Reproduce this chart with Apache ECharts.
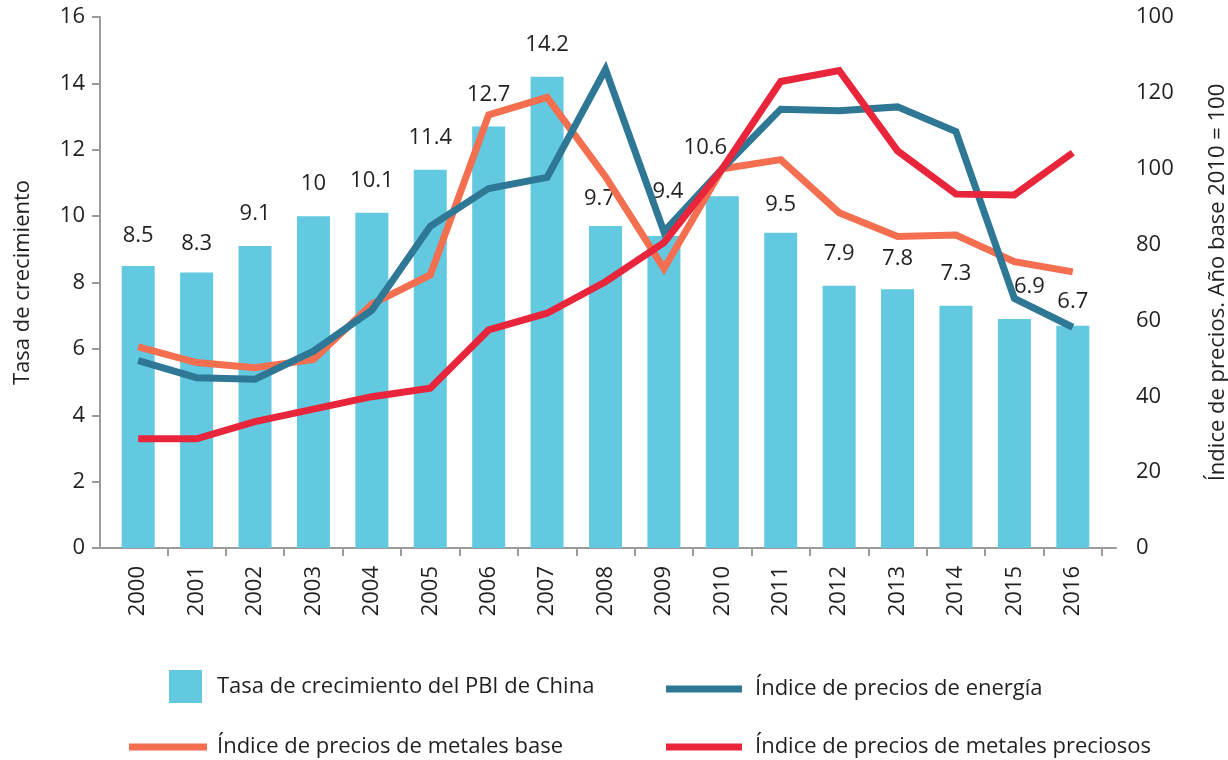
<!DOCTYPE html>
<html>
<head>
<meta charset="utf-8">
<script src="https://cdn.jsdelivr.net/npm/echarts@6/dist/echarts.min.js"></script>
<style>
  html, body { margin: 0; padding: 0; background: #fff; }
  #chart { width: 1228px; height: 760px; }
</style>
</head>
<body>
<div id="chart"></div>
<script>
const years = ["2000", "2001", "2002", "2003", "2004", "2005", "2006", "2007", "2008",
  "2009", "2010", "2011", "2012", "2013", "2014", "2015", "2016"];
const gdpGrowth = [8.5, 8.3, 9.1, 10, 10.1, 11.4, 12.7, 14.2, 9.7, 9.4, 10.6, 9.5, 7.9, 7.8, 7.3, 6.9, 6.7];
const energyIndex = [49.4, 44.9, 44.5, 51.9, 62.7, 84.8, 94.8, 97.7, 126.2, 83.4, 100, 115.7, 115.3, 116.3, 109.8, 65.8, 58.2];
const baseMetalsIndex = [53.0, 48.9, 47.5, 49.7, 64.3, 72.0, 114.2, 118.8, 97.9, 73.7, 100, 102.4, 88.4, 82.1, 82.5, 75.5, 72.8];
const preciousMetalsIndex = [28.8, 28.8, 33.3, 36.6, 39.9, 42.1, 57.5, 61.9, 70.2, 80.5, 100, 123.0, 125.9, 104.7, 93.3, 93.1, 104.2];
const rightTickLabels = ["0", "20", "40", "60", "80", "100", "120", "100"];

const names = {
  gdp: "Tasa de crecimiento del PBI de China",
  energy: "Índice de precios de energía",
  base: "Índice de precios de metales base",
  precious: "Índice de precios de metales preciosos",
};

const FONT = "'Open Sans', sans-serif";
const TEXT = "#231f20";
const AXIS = "#9b9b9b";

// a few bar labels sit slightly off in the original
const labelNudge = { "2000": [0, 2], "2001": [0, 3], "2008": [-6, 5], "2009": [4, -12], "2010": [-17, -16],
  "2011": [0, 4], "2013": [0, 2], "2015": [15, 0], "2016": [0, 8] };

const chart = echarts.init(document.getElementById("chart"));

const legendBase = {
  orient: "horizontal",
  selectedMode: false,
  padding: 0,
  icon: "rect",
  textStyle: { color: TEXT, fontFamily: FONT, fontSize: 22 },
};

chart.setOption({
  animation: false,
  textStyle: { fontFamily: FONT },
  grid: [
    { left: 100, right: 112, top: 17, bottom: 212, outerBoundsMode: "none" },
    { left: 109, right: 126, top: 17, bottom: 212, outerBoundsMode: "none" },
  ],
  legend: [
    { ...legendBase, data: [names.gdp], left: 169, top: 670, itemWidth: 33, itemHeight: 33,
      textStyle: { ...legendBase.textStyle, padding: [7, 0, 0, 10] } },
    { ...legendBase, data: [names.energy], left: 666, top: 678, itemWidth: 76, itemHeight: 7,
      textStyle: { ...legendBase.textStyle, padding: [2, 0, 0, 8] } },
    { ...legendBase, data: [names.base], left: 129, top: 736, itemWidth: 78, itemHeight: 7,
      textStyle: { ...legendBase.textStyle, padding: [2, 0, 0, 5] } },
    { ...legendBase, data: [names.precious], left: 666, top: 736, itemWidth: 76, itemHeight: 7,
      textStyle: { ...legendBase.textStyle, padding: [2, 0, 0, 8] } },
  ],
  xAxis: [
    {
      gridIndex: 0,
      type: "value",
      min: 0,
      max: 1,
      axisLine: { show: true, lineStyle: { color: AXIS, width: 2 } },
      axisTick: { show: false },
      axisLabel: { show: false },
      splitLine: { show: false },
    },
    {
      gridIndex: 1,
      type: "category",
      data: years,
      boundaryGap: true,
      axisLine: { show: false },
      axisTick: { show: true, length: 8, interval: (i) => i !== 0, lineStyle: { color: AXIS, width: 2 } },
      axisLabel: { rotate: 90, margin: 18, color: TEXT, fontSize: 22, fontFamily: FONT, interval: 0 },
    },
  ],
  yAxis: [
    {
      gridIndex: 0,
      type: "value",
      min: 0,
      max: 16,
      interval: 2,
      name: "Tasa de crecimiento",
      nameLocation: "middle",
      nameRotate: 90,
      nameGap: 66,
      nameTextStyle: { color: TEXT, fontSize: 22, fontFamily: FONT },
      axisLine: { show: true, lineStyle: { color: AXIS, width: 2 } },
      axisTick: { show: true, length: 8, lineStyle: { color: AXIS, width: 2 } },
      axisLabel: { margin: 15, color: TEXT, fontSize: 22, fontFamily: FONT },
      splitLine: { show: false },
    },
    {
      gridIndex: 1,
      type: "value",
      min: 0,
      max: 16,
      interval: 2,
      show: false,
      splitLine: { show: false },
    },
    {
      gridIndex: 1,
      type: "value",
      position: "right",
      min: 0,
      max: 140,
      interval: 20,
      name: "Índice de precios. Año base 2010 = 100",
      nameLocation: "middle",
      nameRotate: 90,
      nameGap: 105,
      nameTextStyle: { color: TEXT, fontSize: 22, fontFamily: FONT },
      axisLine: { show: false },
      axisTick: { show: false },
      axisLabel: {
        margin: 34,
        color: TEXT,
        fontSize: 22,
        fontFamily: FONT,
        formatter: (v) => rightTickLabels[Math.round(v / 20)],
      },
      splitLine: { show: false },
    },
  ],
  series: [
    {
      name: names.gdp,
      type: "bar",
      xAxisIndex: 1,
      yAxisIndex: 1,
      barWidth: 33,
      itemStyle: { color: "#62c9e0" },
      label: { show: true, position: "top", distance: 21, color: TEXT, fontSize: 22, fontFamily: FONT },
      data: gdpGrowth.map((v, i) => ({
        value: v,
        label: { offset: labelNudge[years[i]] || [0, 0] },
      })),
    },
    {
      name: names.base,
      type: "line",
      xAxisIndex: 1,
      yAxisIndex: 2,
      showSymbol: false,
      symbol: "none",
      lineStyle: { color: "#f36f50", width: 7, join: "miter" },
      itemStyle: { color: "#f36f50" },
      data: baseMetalsIndex,
    },
    {
      name: names.energy,
      type: "line",
      xAxisIndex: 1,
      yAxisIndex: 2,
      showSymbol: false,
      symbol: "none",
      lineStyle: { color: "#2f7895", width: 7, join: "miter" },
      itemStyle: { color: "#2f7895" },
      data: energyIndex,
    },
    {
      name: names.precious,
      type: "line",
      xAxisIndex: 1,
      yAxisIndex: 2,
      showSymbol: false,
      symbol: "none",
      lineStyle: { color: "#e8253b", width: 7, join: "miter" },
      itemStyle: { color: "#e8253b" },
      data: preciousMetalsIndex,
    },
  ],
});

window.addEventListener("resize", () => {
  chart.resize();
});
</script>
</body>
</html>
